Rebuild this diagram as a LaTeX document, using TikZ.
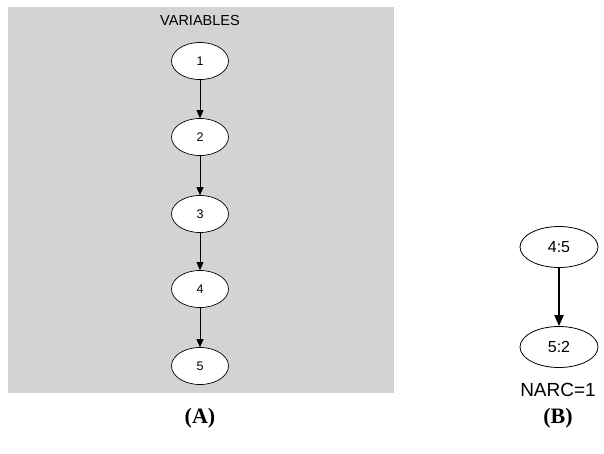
\documentclass[tikz,border=0pt]{standalone}
\usepackage{fontspec}
\setmainfont{Liberation Serif}
\setsansfont{Liberation Sans}
\usetikzlibrary{shapes.geometric,arrows.meta}
\definecolor{panelgray}{RGB}{211,211,211}
\tikzset{
  varnode/.style={ellipse,draw=black,fill=white,line width=0.7pt,minimum width=57pt,minimum height=37pt,inner sep=0pt,font=\sffamily\fontsize{12.5}{14}\selectfont},
  bignode/.style={ellipse,draw=black,fill=white,line width=0.8pt,minimum width=78pt,minimum height=41pt,inner sep=0pt,font=\sffamily\fontsize{16}{18}\selectfont},
  thinarc/.style={-{Triangle[length=8pt,width=7pt]},line width=0.8pt},
  thickarc/.style={-{Triangle[length=11pt,width=9pt]},line width=2pt},
  caption/.style={font=\bfseries\fontsize{22}{24}\selectfont}
}
\begin{document}
\begin{tikzpicture}[x=1pt,y=-1pt]
\useasboundingbox (0,0) rectangle (604,453);
\fill[panelgray] (8,7) rectangle (394,393);
\node[font=\sffamily\fontsize{14.5}{16}\selectfont] (title) at (200,21) {VARIABLES};
\node[varnode] (v1) at (200,61) {1};
\node[varnode] (v2) at (200,137) {2};
\node[varnode] (v3) at (200,214) {3};
\node[varnode] (v4) at (200,289) {4};
\node[varnode] (v5) at (200,366) {5};
\draw[thinarc] (v1) -- (v2);
\draw[thinarc] (v2) -- (v3);
\draw[thinarc] (v3) -- (v4);
\draw[thinarc] (v4) -- (v5);
\node[caption] (capA) at (200,418) {(A)};
\node[bignode] (b1) at (559,247) {4:5};
\node[bignode] (b2) at (559,347) {5:2};
\draw[thickarc] (b1) -- (b2);
\node[font=\sffamily\fontsize{19}{21}\selectfont] (narc) at (558,390) {NARC=1};
\node[caption] (capB) at (558,418) {(B)};
\end{tikzpicture}
\end{document}
